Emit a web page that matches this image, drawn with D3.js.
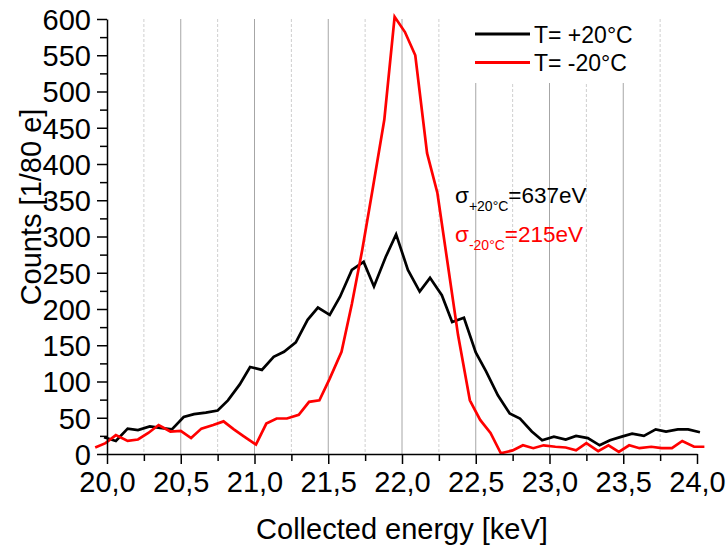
<!DOCTYPE html>
<html>
<head>
<meta charset="utf-8">
<script src="https://cdn.jsdelivr.net/npm/d3@7"></script>
<style>
  body { margin: 0; background: #fff; }
  svg text { font-family: "Liberation Sans", Arial, sans-serif; }
</style>
</head>
<body>
<svg id="chart"></svg>
<script>
// Spectrum at +20°C (black)
const energyHot = [19.98, 20.06, 20.14, 20.21, 20.29, 20.36, 20.44, 20.52, 20.59, 20.67,
  20.75, 20.82, 20.90, 20.97, 21.05, 21.13, 21.20, 21.28, 21.36, 21.43,
  21.51, 21.58, 21.66, 21.74, 21.81, 21.89, 21.96, 22.04, 22.12, 22.19,
  22.27, 22.34, 22.42, 22.50, 22.57, 22.65, 22.73, 22.80, 22.88, 22.95,
  23.03, 23.11, 23.18, 23.26, 23.34, 23.41, 23.49, 23.56, 23.64, 23.72,
  23.79, 23.87, 23.94, 24.02];
const countsHot = [23, 18, 35, 33, 38, 36, 34, 51, 55, 57,
  60, 74, 96, 120, 116, 134, 141, 154, 185, 202,
  192, 217, 254, 265, 231, 272, 303, 254, 224, 243,
  219, 182, 188, 140, 114, 81, 56, 49, 31, 19,
  24, 20, 25, 22, 12, 19, 24, 28, 25, 34,
  31, 34, 34, 30];

// Spectrum at -20°C (red)
const energyCold = [19.92, 19.99, 20.06, 20.14, 20.21, 20.28, 20.35, 20.43, 20.50, 20.57,
  20.64, 20.72, 20.79, 20.86, 20.93, 21.01, 21.08, 21.15, 21.22, 21.30,
  21.37, 21.44, 21.51, 21.59, 21.66, 21.73, 21.80, 21.88, 21.95, 22.02,
  22.09, 22.17, 22.24, 22.31, 22.38, 22.46, 22.53, 22.60, 22.67, 22.75,
  22.82, 22.89, 22.96, 23.04, 23.11, 23.18, 23.25, 23.33, 23.40, 23.47,
  23.54, 23.61, 23.69, 23.76, 23.83, 23.90, 23.98, 24.05];
const countsCold = [9, 15, 26, 18, 20, 29, 40, 31, 32, 22,
  35, 40, 45, 34, 24, 13, 42, 49, 49, 54,
  72, 74, 104, 141, 207, 281, 364, 461, 603, 582,
  550, 415, 360, 262, 164, 74, 47, 29, 1, 5,
  12, 8, 12, 10, 9, 5, 15, 4, 12, 3,
  12, 8, 10, 8, 8, 18, 10, 10];

const legendLabels = ["T= +20°C", "T= -20°C"];
const seriesColors = ["#000000", "#ff0000"];
const sigmaSubs = ["+20°C", "-20°C"];
const sigmaValues = ["=637eV", "=215eV"];

const width = 728, height = 547;
const svg = d3.select("#chart").attr("width", width).attr("height", height);

// scales
const x = d3.scaleLinear().domain([20, 24]).range([107, 697]);
const y = d3.scaleLinear().domain([0, 600]).range([454, 19]);

// vertical grid lines every 0.25 keV
const gridVals = d3.range(20.25, 24, 0.25);
svg.append("g").selectAll("line")
  .data(gridVals)
  .join("line")
  .attr("x1", d => x(d)).attr("x2", d => x(d))
  .attr("y1", y(600)).attr("y2", y(0))
  .attr("stroke", d => Math.abs(d * 2 - Math.round(d * 2)) < 1e-6 ? "#a6a6a6" : "#cfcfcf")
  .attr("stroke-width", 1)
  .attr("stroke-dasharray", d => Math.abs(d * 2 - Math.round(d * 2)) < 1e-6 ? null : "3,2");

// white box behind the legend
svg.append("rect")
  .attr("x", 462).attr("y", 14).attr("width", 183).attr("height", 69)
  .attr("fill", "#fff");

// data lines
const line = d3.line().x(d => x(d[0])).y(d => y(d[1]));
const series = [
  d3.zip(energyHot, countsHot),
  d3.zip(energyCold, countsCold)
];
svg.append("g").selectAll("path")
  .data(series)
  .join("path")
  .attr("d", line)
  .attr("fill", "none")
  .attr("stroke", (d, i) => seriesColors[i])
  .attr("stroke-width", 2.7)
  .attr("stroke-linejoin", "miter");

// axes: minor ticks first, then major ticks with labels
const fmt = d => d3.format(".1f")(d).replace(".", ",");

svg.append("g")
  .attr("transform", `translate(0,${y(0)})`)
  .call(d3.axisBottom(x).tickValues(d3.range(20.25, 24, 0.5)).tickSize(7).tickSizeOuter(0).tickFormat(""))
  .call(g => g.select(".domain").remove());
const xAxis = svg.append("g")
  .attr("transform", `translate(0,${y(0)})`)
  .call(d3.axisBottom(x).tickValues(d3.range(20, 24.01, 0.5)).tickSize(10).tickSizeOuter(0).tickPadding(7).tickFormat(fmt));

svg.append("g")
  .attr("transform", `translate(${x(20)},0)`)
  .call(d3.axisLeft(y).tickValues(d3.range(25, 600, 50)).tickSize(7).tickSizeOuter(0).tickFormat(""))
  .call(g => g.select(".domain").remove());
const yAxis = svg.append("g")
  .attr("transform", `translate(${x(20)},0)`)
  .call(d3.axisLeft(y).tickValues(d3.range(0, 601, 50)).tickSize(10).tickSizeOuter(0).tickPadding(6));

svg.selectAll(".domain, .tick line").attr("stroke", "#000").attr("stroke-width", 1.5);
xAxis.selectAll("text").attr("font-size", 29).attr("fill", "#000");
yAxis.selectAll("text").attr("font-size", 29).attr("fill", "#000").attr("dy", "0.36em");

// axis titles
svg.append("text")
  .attr("x", 402).attr("y", 539)
  .attr("text-anchor", "middle")
  .attr("font-size", 29)
  .text("Collected energy [keV]");
svg.append("text")
  .attr("transform", "translate(41,207) rotate(-90)")
  .attr("text-anchor", "middle")
  .attr("font-size", 29)
  .text("Counts [1/80 e]");

// legend
const legend = svg.append("g");
legendLabels.forEach((lab, i) => {
  const ly = 34 + i * 28.5;
  legend.append("line")
    .attr("x1", 475).attr("x2", 530)
    .attr("y1", ly).attr("y2", ly)
    .attr("stroke", seriesColors[i]).attr("stroke-width", 3);
  legend.append("text")
    .attr("x", 534).attr("y", ly + 8.5)
    .attr("font-size", 23)
    .text(lab);
});

// resolution annotations
sigmaSubs.forEach((sub, i) => {
  const t = svg.append("text")
    .attr("x", 455).attr("y", 203 + i * 39)
    .attr("font-size", 22.5)
    .attr("fill", seriesColors[i]);
  t.append("tspan").text("σ");
  t.append("tspan").attr("font-size", 14).attr("dy", 7.5).text(sub);
  t.append("tspan").attr("dy", -7.5).text(sigmaValues[i]);
});
</script>
</body>
</html>
